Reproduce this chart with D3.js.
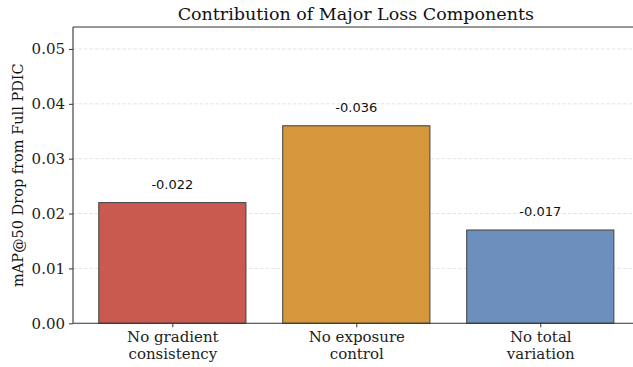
<!DOCTYPE html>
<html><head><meta charset="utf-8">
<script src="https://cdn.jsdelivr.net/npm/d3@7"></script>
<style>body{margin:0;background:#fff}svg{display:block}</style>
</head><body>
<svg id="c" width="633" height="367"></svg>
<script>
const categories = [["No gradient","consistency"],["No exposure","control"],["No total","variation"]];
const values = [0.022, 0.036, 0.017];
const colors = ["#C85A4F", "#D6963C", "#6C8FBD"];
const yTicks = [0, 0.01, 0.02, 0.03, 0.04, 0.05];

const svg = d3.select("#c");
const m = {l:73, t:27, r:639.6, b:323.3};
const x = d3.scaleLinear().domain([-0.54, 2.54]).range([m.l, m.r]);
const y = d3.scaleLinear().domain([0, 0.054]).range([m.b, m.t]);
const serif = "'DejaVu Serif', serif";
const sans = "'DejaVu Sans', sans-serif";

// grid
svg.append("g").selectAll("line").data(yTicks.slice(1)).join("line")
  .attr("x1", m.l).attr("x2", m.r).attr("y1", d=>y(d)).attr("y2", d=>y(d))
  .attr("stroke", "#dcdcdc").attr("stroke-width", 0.8).attr("stroke-dasharray", "3.5,2");

// bars
const bw = 0.8;
svg.append("g").selectAll("rect").data(values).join("rect")
  .attr("x", (d,i)=>x(i-bw/2)).attr("width", (d,i)=>x(i+bw/2)-x(i-bw/2))
  .attr("y", d=>y(d)).attr("height", d=>y(0)-y(d))
  .attr("fill", (d,i)=>colors[i]).attr("stroke", "#4a4a4a").attr("stroke-width", 1.1);

// value labels
svg.append("g").selectAll("text").data(values).join("text")
  .attr("x", (d,i)=>x(i)).attr("y", d=>y(d+0.0025))
  .attr("text-anchor", "middle").attr("font-family", sans).attr("font-size", 13).attr("fill", "#111")
  .text(d=>"-" + d.toFixed(3));

// axes
const ya = d3.axisLeft(y).tickValues(yTicks).tickFormat(d3.format(".2f")).tickSize(4).tickPadding(4);
const gy = svg.append("g").attr("transform", `translate(${m.l},0)`).call(ya);
gy.select(".domain").remove();
gy.selectAll("line").attr("stroke", "#333");
gy.selectAll("text").attr("font-family", serif).attr("font-size", 15).attr("fill", "#222");

const xa = d3.axisBottom(x).tickValues([0,1,2]).tickFormat("").tickSize(4);
const gx = svg.append("g").attr("transform", `translate(0,${m.b})`).call(xa);
gx.select(".domain").remove();
gx.selectAll("line").attr("stroke", "#333");
gx.selectAll(".tick").append("text").attr("text-anchor","middle").attr("font-family", serif)
  .attr("font-size", 15).attr("fill", "#222")
  .each(function(d){
    const t = d3.select(this);
    categories[d].forEach((s,k)=>t.append("tspan").attr("x",0).attr("y", 19 + k*16.5).text(s));
  });

// spines
const sp = svg.append("g").attr("stroke", "#333").attr("stroke-width", 1.1).attr("fill","none");
sp.append("line").attr("x1", m.l).attr("x2", m.l).attr("y1", m.t).attr("y2", m.b);
sp.append("line").attr("x1", m.l).attr("x2", m.r).attr("y1", m.t).attr("y2", m.t);
sp.append("line").attr("x1", m.l).attr("x2", m.r).attr("y1", m.b).attr("y2", m.b);
sp.append("line").attr("x1", m.r).attr("x2", m.r).attr("y1", m.t).attr("y2", m.b);

// title
svg.append("text").attr("x", (m.l+m.r)/2 - 0.5).attr("y", 20).attr("text-anchor","middle")
  .attr("font-family", serif).attr("font-size", 17.5).attr("fill","#111")
  .text("Contribution of Major Loss Components");

// y label
svg.append("text").attr("transform", `translate(23,${(m.t+m.b)/2}) rotate(-90)`)
  .attr("text-anchor","middle").attr("font-family", serif).attr("font-size", 14.5).attr("fill","#111")
  .text("mAP@50 Drop from Full PDIC");
</script>
</body></html>
